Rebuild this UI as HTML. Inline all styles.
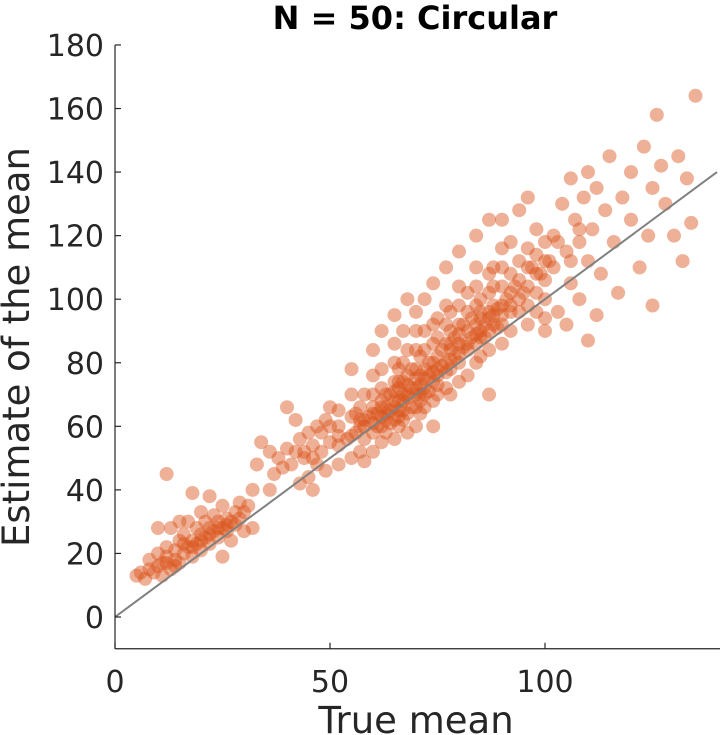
<!DOCTYPE html>
<html><head><meta charset="utf-8"><style>
html,body{margin:0;padding:0;background:#fff;}
svg{display:block;font-family:"DejaVu Sans","Liberation Sans",sans-serif;}
</style></head><body>
<svg id="chart" width="720" height="735" viewBox="0 0 720 735">
<g id="points"></g>
<line x1="115" y1="617" x2="717" y2="172" stroke="#808080" stroke-width="2" id="idline"/>
<g id="axes"></g>
<text x="415" y="29" text-anchor="middle" font-size="32" font-weight="bold" fill="#000">N = 50: Circular</text>
<text x="416" y="733" text-anchor="middle" font-size="37" fill="#262626">True mean</text>
<text transform="translate(29,347) rotate(-90)" text-anchor="middle" font-size="37" fill="#262626">Estimate of the mean</text>
</svg>
<script>
const xTicks=[0,50,100];
const yTicks=[0,20,40,60,80,100,120,140,160,180];
const samples=[
[5,13],[6,14],[7,12],[8,15],[8,18],[9,14],[10,16],[10,20],[11,13],[11,17],[12,19],[12,22],[13,15],[13,28],[14,18],[14,21],[15,17],[15,24],[16,20],[16,26],[17,22],[17,30],[18,19],[18,24],[19,23],[19,28],[20,21],[20,26],[20,33],[21,25],[21,30],[22,23],[22,28],[22,38],[23,27],[23,32],[24,25],[24,30],[25,28],[25,35],[26,27],[26,31],[27,30],[27,24],[28,33],[28,29],[29,31],[29,36],[30,27],[30,33],[12,45],[18,39],[10,28],[15,30],[25,19],[31,35],[32,40],[33,48],[32,28],[34,55],
[36,40],[37,45],[38,50],[39,47],[40,53],[40,66],[41,48],[42,52],[43,56],[43,42],[44,50],[45,58],[45,44],[46,54],[47,60],[47,48],[48,52],[49,62],[49,46],[50,55],[50,66],[36,52],[42,62],[46,40],
[52,54],[52,60],[52,48],[52,65],[55,57],[55,63],[55,50],[55,70],[55,78],[57,60],[57,52],[57,66],[58,62],[58,56],[58,70],[58,49],
[60,58],[60,64],[60,70],[60,76],[60,52],[60,84],[62,60],[62,66],[62,72],[62,78],[62,55],[62,90],[63,64],[63,70],[63,58],
[65,62],[65,68],[65,74],[65,80],[65,56],[65,86],[65,95],[66,65],[66,72],[66,60],[66,78],[67,68],[67,74],[67,80],[67,62],[67,90],
[68,70],[68,64],[68,76],[68,84],[68,58],[68,100],[70,66],[70,72],[70,78],[70,84],[70,90],[70,60],[70,96],[71,70],[71,76],[71,82],[71,64],
[72,72],[72,78],[72,84],[72,90],[72,66],[72,100],[74,74],[74,80],[74,86],[74,92],[74,68],[74,105],[74,60],[75,76],[75,82],[75,88],[75,70],[75,94],
[77,80],[77,86],[77,92],[77,98],[77,72],[77,110],[78,78],[78,84],[78,90],[78,96],[78,70],[80,80],[80,86],[80,92],[80,98],[80,104],[80,74],[80,115],
[82,84],[82,90],[82,96],[82,102],[82,76],[84,86],[84,92],[84,98],[84,104],[84,110],[84,80],[84,120],[85,88],[85,94],[85,100],[85,82],
[87,90],[87,96],[87,102],[87,108],[87,84],[87,125],[87,70],[88,92],[88,98],[88,104],[88,110],[90,92],[90,98],[90,104],[90,110],[90,116],[90,86],[90,125],
[92,96],[92,102],[92,108],[92,90],[92,118],[94,100],[94,106],[94,112],[94,96],[94,128],[96,98],[96,104],[96,110],[96,116],[96,92],[96,132],
[98,102],[98,108],[98,114],[98,96],[98,122],[100,100],[100,106],[100,112],[100,118],[100,94],[100,90],
[102,110],[102,120],[103,96],[104,130],[105,115],[106,105],[106,138],[107,125],[108,118],[108,100],[109,132],[110,112],[110,140],[111,122],[112,135],[112,95],[113,108],[114,128],[115,145],[116,118],[117,102],[118,132],[120,125],[120,140],[122,110],[123,148],[124,120],[125,135],[126,158],[127,142],[128,130],[130,120],[131,145],[132,112],[133,138],[134,124],[135,164],[125,98],[110,87],[105,92],
[56,58],[57,62],[58,60],[59,63],[60,61],[60,66],[61,64],[61,60],[62,63],[62,68],[63,66],[63,62],[64,65],[64,70],[64,61],[65,66],[65,71],[66,68],[66,63],[66,74],[67,70],[67,65],[68,69],[68,73],[69,72],[69,66],[69,78],[70,70],[70,75],[71,73],[71,68],[72,75],[72,70],[73,76],[73,71],[73,80],[74,77],[75,78],[75,73],[76,79],[76,84],[77,77],[78,81],[78,86],[79,82],[79,88],[80,83],[80,89],[81,85],[81,92],[82,86],[83,88],[83,94],[84,89],[85,90],[85,96],[86,92],[86,88],[87,94],[88,95],[89,97],[89,91],[90,95],[91,100],[92,98],[93,104],[95,102],[97,110],[99,108],[101,112],[103,118],[106,112],[108,122],[44,52],[46,50],[48,58],[50,60],[52,57],[54,56],[56,64],[20,24],[22,26],[24,28],[18,22],[16,23],[26,29],[14,16],[12,17]
];
const NS='http://www.w3.org/2000/svg';
const X0=115,XS=4.3,Y0=617,YS=3.178;
function sx(v){return X0+v*XS;}
function sy(v){return Y0-v*YS;}
const pg=document.getElementById('points');
samples.forEach(function(p,i){
  const c=document.createElementNS(NS,'circle');
  c.setAttribute('cx',sx(p[0]));c.setAttribute('cy',sy(p[1]));c.setAttribute('r',7);
  c.setAttribute('fill','rgba(217,83,25,0.45)');
  
  
  pg.appendChild(c);
});
const il=document.getElementById('idline');
il.setAttribute('x1',sx(0));il.setAttribute('y1',sy(0));il.setAttribute('x2',sx(140));il.setAttribute('y2',sy(140));
const ax=document.getElementById('axes');
function L(x1,y1,x2,y2,name){const l=document.createElementNS(NS,'line');l.setAttribute('x1',x1);l.setAttribute('y1',y1);l.setAttribute('x2',x2);l.setAttribute('y2',y2);l.setAttribute('stroke','#262626');l.setAttribute('stroke-width','1.2');


ax.appendChild(l);}
const yb=sy(-10);
L(X0,sy(180),X0,yb,'y-axis-line');
L(X0,yb,720,yb,'x-axis-line');
function T(x,y,s,anchor,name){const t=document.createElementNS(NS,'text');t.setAttribute('x',x);t.setAttribute('y',y);t.setAttribute('text-anchor',anchor);t.setAttribute('font-size','30');t.setAttribute('fill','#262626');t.textContent=s;


ax.appendChild(t);}
yTicks.forEach(function(v){L(X0,sy(v),X0+6,sy(v),'y-tick');T(X0-11,sy(v)+11,String(v),'end','y-tick-label');});
xTicks.forEach(function(v){L(sx(v),yb,sx(v),yb-6,'x-tick');T(sx(v),yb+43,String(v),'middle','x-tick-label');});
</script>
</body></html>
